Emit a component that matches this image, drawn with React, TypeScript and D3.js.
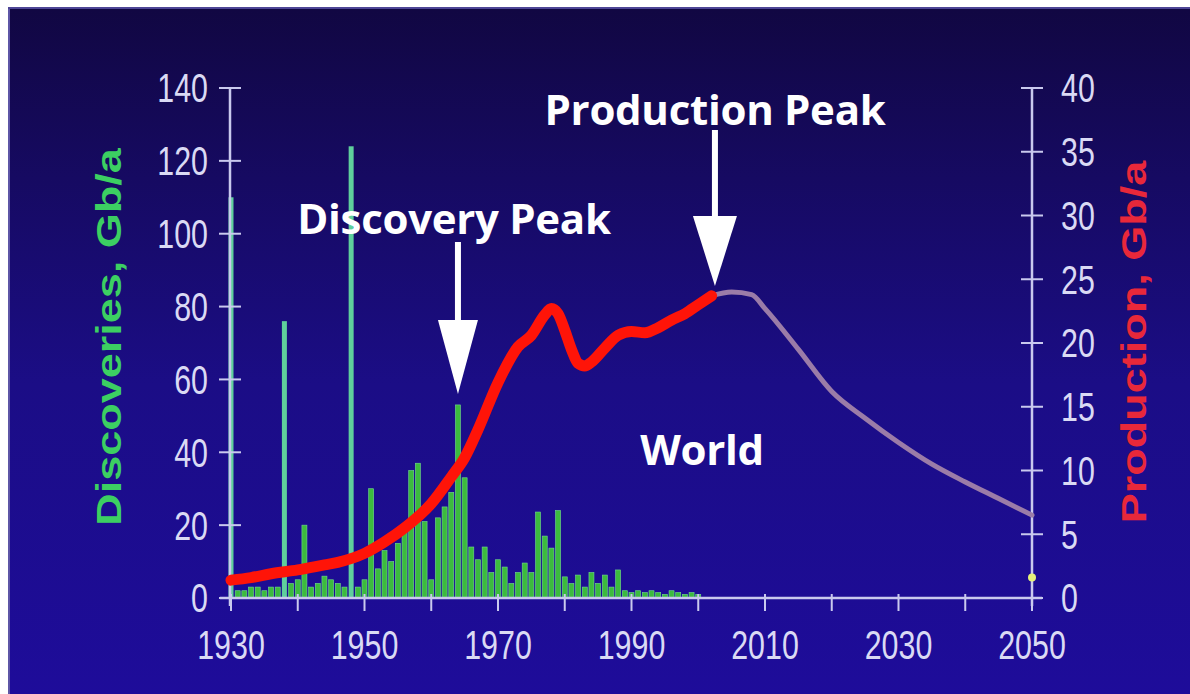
import React from 'react';
import * as d3 from 'd3';

const W = 1190;
const H = 694;

const discoveryYears = [
  1930, 1931, 1932, 1933, 1934, 1935, 1936, 1937, 1938, 1939,
  1940, 1941, 1942, 1943, 1944, 1945, 1946, 1947, 1948, 1949,
  1950, 1951, 1952, 1953, 1954, 1955, 1956, 1957, 1958, 1959,
  1960, 1961, 1962, 1963, 1964, 1965, 1966, 1967, 1968, 1969,
  1970, 1971, 1972, 1973, 1974, 1975, 1976, 1977, 1978, 1979,
  1980, 1981, 1982, 1983, 1984, 1985, 1986, 1987, 1988, 1989,
  1990, 1991, 1992, 1993, 1994, 1995, 1996, 1997, 1998, 1999, 2000,
];
const discoveryValues = [
  110, 2, 2, 3, 3, 2, 3, 3, 76, 4,
  5, 20, 3, 4, 6, 5, 4, 3, 124, 3,
  5, 30, 8, 13, 10, 15, 18, 35, 37, 21,
  5, 22, 25, 29, 53, 33, 14, 10.5, 14, 7,
  10.5, 8.5, 4, 7, 9.6, 7, 23.6, 17, 13.7, 24,
  5.8, 4, 6.3, 3, 7, 4, 6.3, 3, 7.7, 2,
  1.5, 2, 1.5, 2, 1.5, 1, 2, 1.5, 1, 1.5, 1,
];

const productionYears = [
  1930, 1933, 1936, 1940, 1944, 1946, 1950, 1953, 1956, 1960,
  1963, 1965, 1967, 1970, 1973, 1975, 1977, 1978, 1979, 1980,
  1981, 1982, 1983, 1984, 1986, 1988, 1990, 1992, 1994, 1996,
  1998, 2000, 2002,
];
const productionValues = [
  1.4, 1.6, 1.9, 2.2, 2.6, 2.8, 3.5, 4.4, 5.5, 7.4,
  9.5, 11.0, 13.2, 16.9, 19.7, 20.6, 22.2, 22.7, 22.3, 21.0,
  19.5, 18.4, 18.2, 18.5, 19.6, 20.6, 20.9, 20.8, 21.2, 21.8,
  22.3, 23.0, 23.7,
];

const forecastYears = [2002, 2005, 2008, 2010, 2015, 2020, 2025, 2030, 2035, 2040, 2045, 2050];
const forecastValues = [23.7, 24.0, 23.8, 22.7, 19.5, 16.2, 14.1, 12.2, 10.5, 9.1, 7.8, 6.5];

const endMarkerYear = 2050;
const endMarkerValue = 1.6;

const xTicks = [1930, 1940, 1950, 1960, 1970, 1980, 1990, 2000, 2010, 2020, 2030, 2040, 2050];
const xLabels = [1930, 1950, 1970, 1990, 2010, 2030, 2050];
const leftTicks = [0, 20, 40, 60, 80, 100, 120, 140];
const rightTicks = [0, 5, 10, 15, 20, 25, 30, 35, 40];

const discoveryPeakYear = 1964;
const productionPeakYear = 2002.5;

export default function App() {
  const x = d3.scaleLinear().domain([1930, 2050]).range([231, 1032]);
  const yL = d3.scaleLinear().domain([0, 140]).range([598, 88]);
  const yR = d3.scaleLinear().domain([0, 40]).range([598, 88]);

  const prodLine = d3
    .line<number>()
    .x((_, i) => x(productionYears[i]))
    .y((d) => yR(d))
    .curve(d3.curveMonotoneX);
  const foreLine = d3
    .line<number>()
    .x((_, i) => x(forecastYears[i]))
    .y((d) => yR(d))
    .curve(d3.curveMonotoneX);

  const tickFont = "'Liberation Sans', Arial, sans-serif";
  const axisColor = '#c9c9ee';
  const labelColor = '#dadaf4';
  const barW = 5;
  const sx = 0.76;

  const axL = x(1930) - 1;
  const axR = x(2050);
  const axY = yL(0);

  const arrow = (cx: number, top: number, headTop: number, tip: number, hw: number) => (
    <g>
      <rect x={cx - 3} y={top} width={6} height={headTop - top + 2} fill="#ffffff" />
      <path d={`M${cx - hw},${headTop} L${cx + hw},${headTop} L${cx},${tip} Z`} fill="#ffffff" />
    </g>
  );

  const annFont = "'Open Sans', sans-serif";

  return (
    <svg
      width={W}
      height={H}
      style={{ position: 'absolute', left: 0, top: 0, display: 'block' }}
      xmlns="http://www.w3.org/2000/svg"
    >
      <defs>
        <linearGradient id="bg" x1="0" y1="0" x2="0" y2="1">
          <stop offset="0" stopColor="#110742" />
          <stop offset="0.25" stopColor="#160a62" />
          <stop offset="0.55" stopColor="#1b0d86" />
          <stop offset="1" stopColor="#1e0c9a" />
        </linearGradient>
      </defs>
      <rect x={0} y={0} width={W} height={H} fill="#ffffff" />
      <rect x={8} y={7} width={W - 8} height={H - 7} fill="url(#bg)" />
      <rect x={8} y={7} width={2} height={H - 7} fill="#5e56a6" />
      <rect x={8} y={7} width={W - 8} height={2} fill="#4e4696" />

      {/* discovery bars */}
      {discoveryValues.map((v, i) => (
        <rect
          key={'b' + i}
          x={x(discoveryYears[i]) - barW / 2}
          y={yL(v)}
          width={barW}
          height={axY - yL(v)}
          fill={v > 60 ? '#5fcf9c' : '#3cbb3e'}
          stroke={v > 60 ? 'none' : '#72dc8e'}
          strokeWidth={0.6}
        />
      ))}

      {/* axes */}
      <line x1={axL - 10} y1={axY} x2={axR + 10} y2={axY} stroke={axisColor} strokeWidth={2.5} />
      {xTicks.map((t) => (
        <line key={'xt' + t} x1={x(t)} y1={axY - 4} x2={x(t)} y2={axY + 13} stroke={axisColor} strokeWidth={2} />
      ))}
      <line x1={axL} y1={yL(140)} x2={axL} y2={axY + 8} stroke={axisColor} strokeWidth={2.5} />
      {leftTicks.map((t) => (
        <line key={'lt' + t} x1={axL - 11} y1={yL(t)} x2={axL + 11} y2={yL(t)} stroke={axisColor} strokeWidth={2} />
      ))}
      <line x1={axR} y1={yR(40)} x2={axR} y2={axY + 8} stroke={axisColor} strokeWidth={2.5} />
      {rightTicks.map((t) => (
        <line key={'rt' + t} x1={axR - 11} y1={yR(t)} x2={axR + 11} y2={yR(t)} stroke={axisColor} strokeWidth={2} />
      ))}

      {/* production */}
      <path d={foreLine(forecastValues) || ''} fill="none" stroke="#9b7ca8" strokeWidth={5} strokeLinejoin="round" strokeLinecap="round" />
      <path d={prodLine(productionValues) || ''} fill="none" stroke="#ff1408" strokeWidth={11} strokeLinejoin="round" strokeLinecap="round" />
      <circle cx={x(endMarkerYear)} cy={yR(endMarkerValue)} r={4} fill="#e6f27a" />

      {/* tick labels */}
      {leftTicks.map((t) => (
        <text key={'ll' + t} transform={`translate(208,${yL(t)}) scale(${sx},1)`} dy="0.36em" textAnchor="end" fontFamily={tickFont} fontSize={40} fill={labelColor}>
          {t}
        </text>
      ))}
      {rightTicks.map((t) => (
        <text key={'rl' + t} transform={`translate(1061,${yR(t)}) scale(${sx},1)`} dy="0.36em" textAnchor="start" fontFamily={tickFont} fontSize={40} fill={labelColor}>
          {t}
        </text>
      ))}
      {xLabels.map((t) => (
        <text key={'xl' + t} transform={`translate(${x(t)},659) scale(${sx},1)`} textAnchor="middle" fontFamily={tickFont} fontSize={40} fill={labelColor}>
          {t}
        </text>
      ))}

      {/* axis titles */}
      <text
        transform={`translate(121,337) scale(0.78,1) rotate(-90)`}
        textAnchor="middle"
        fontFamily="'Liberation Sans', Arial, sans-serif"
        fontWeight="bold"
        fontSize={45}
        fill="#3ccf62"
      >
        Discoveries, Gb/a
      </text>
      <text
        transform={`translate(1146,342) scale(0.78,1) rotate(-90)`}
        textAnchor="middle"
        fontFamily="'Liberation Sans', Arial, sans-serif"
        fontWeight="bold"
        fontSize={45}
        fill="#e8283a"
      >
        Production, Gb/a
      </text>

      {/* annotations */}
      {arrow(x(productionPeakYear), 130, 216, 286, 22)}
      {arrow(x(discoveryPeakYear), 242, 320, 394, 20)}
      <text x={715} y={125} textAnchor="middle" fontFamily={annFont} fontWeight="bold" fontSize={42} letterSpacing={-0.3} fill="#ffffff">
        Production Peak
      </text>
      <text x={454} y={234} textAnchor="middle" fontFamily={annFont} fontWeight="bold" fontSize={42} letterSpacing={-0.3} fill="#ffffff">
        Discovery Peak
      </text>
      <text x={702} y={465} textAnchor="middle" fontFamily={annFont} fontWeight="bold" fontSize={42} letterSpacing={-0.3} fill="#ffffff">
        World
      </text>
    </svg>
  );
}
